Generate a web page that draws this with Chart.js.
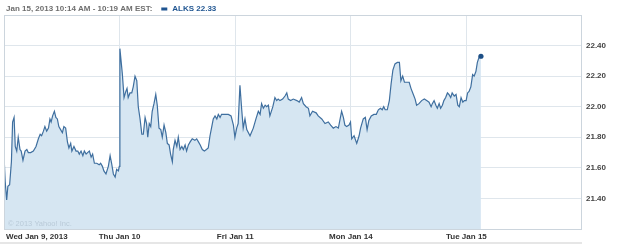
<!DOCTYPE html>
<html><head><meta charset="utf-8">
<script src="https://cdn.jsdelivr.net/npm/chart.js@4.4.1/dist/chart.umd.min.js"></script>
<style>html,body{margin:0;padding:0;background:#fff;overflow:hidden}#wrap{width:625px;height:244px;position:relative}</style>
</head><body><div id="wrap"><canvas id="c" width="625" height="244"></canvas></div>
<script>
const SESSION_MINUTES = 390;
const dayLabels = ["Wed Jan 9, 2013", "Thu Jan 10", "Fri Jan 11", "Mon Jan 14", "Tue Jan 15"];
const yTicks = [21.4, 21.6, 21.8, 22.0, 22.2, 22.4];
const titleText = "Jan 15, 2013 10:14 AM - 10:19 AM EST:";
const seriesLabel = "ALKS 22.33";
const watermark = "\u00A9 2013 Yahoo! Inc.";

// minutes after 9:30 open, and prices, per session
const wedMinutes = [1,4,9,13,19,25,29,34,38,43,48,54,58,64,71,77,82,90,99,108,116,122,127,133,138,144,150,155,159,164,170,175,180,185,191,197,202,208,214,219,225,229,236,243,249,254,260,266,271,277,282,288,294,299,305,313,321,326,332,337,344,352,358,363,369,375,380,386,389];
const wedPrices = [21.64,21.51,21.39,21.48,21.49,21.64,21.90,21.93,21.74,21.71,21.80,21.72,21.71,21.65,21.71,21.72,21.70,21.70,21.71,21.74,21.79,21.82,21.81,21.84,21.87,21.84,21.86,21.92,21.90,21.94,21.97,21.93,21.92,21.87,21.85,21.83,21.87,21.86,21.77,21.73,21.76,21.71,21.74,21.71,21.71,21.69,21.71,21.68,21.71,21.69,21.70,21.71,21.67,21.69,21.63,21.63,21.62,21.63,21.61,21.58,21.56,21.61,21.68,21.63,21.56,21.54,21.59,21.58,21.61];
const thuMinutes = [1,9,15,21,25,29,35,41,46,52,58,63,69,75,80,86,91,95,100,105,110,116,122,127,133,139,144,150,156,161,167,172,178,181,187,193,198,204,210,215,221,226,232,238,245,254,260,266,272,279,286,293,299,305,311,316,322,328,333,339,344,356,367,376,384,389];
const thuPrices = [22.38,22.22,22.06,22.10,22.12,22.06,22.09,22.09,22.13,22.20,22.17,22.00,21.92,21.82,21.82,21.93,21.89,21.80,21.89,21.87,21.97,22.02,22.08,22.01,21.86,21.85,21.80,21.88,21.83,21.76,21.75,21.69,21.64,21.72,21.78,21.74,21.80,21.72,21.74,21.72,21.75,21.71,21.75,21.77,21.79,21.78,21.79,21.77,21.75,21.72,21.71,21.72,21.73,21.81,21.87,21.92,21.94,21.92,21.95,21.93,21.95,21.95,21.95,21.94,21.88,21.80];
const friMinutes = [5,10,16,22,27,33,39,50,61,70,78,84,89,95,101,106,112,117,127,134,140,145,151,160,168,174,179,187,196,208,216,224,230,239,247,252,261,273,280,292,303,314,322,331,340,348,354,359,365,370,376,384,389];
const friPrices = [21.86,21.89,22.14,21.98,21.86,21.92,21.85,21.81,21.86,21.92,21.97,21.95,22.02,21.99,22.01,22.00,22.01,21.94,22.00,22.06,22.04,22.05,22.04,22.05,22.07,22.09,22.05,22.04,22.05,22.04,22.03,22.06,22.02,22.00,21.99,21.94,21.97,21.96,21.94,21.92,21.89,21.90,21.88,21.86,21.87,21.86,21.92,21.97,21.93,21.88,21.87,21.88,21.90];
const monMinutes = [3,11,20,28,33,42,49,55,61,69,78,86,93,100,106,111,116,123,130,136,142,149,157,164,169,175,181,189,197,203,211,217,222,230,239,248,256,264,271,275,281,287,292,298,303,309,314,320,326,331,337,342,349,355,361,366,372,378,383,389];
const monPrices = [21.79,21.81,21.76,21.81,21.86,21.92,21.93,21.85,21.91,21.94,21.95,21.95,21.98,21.99,21.98,22.00,21.98,21.98,22.04,22.15,22.24,22.28,22.29,22.29,22.17,22.20,22.16,22.16,22.16,22.12,22.08,22.05,22.01,22.02,22.04,22.05,22.04,22.03,22.00,22.02,22.04,22.01,21.99,22.02,21.99,22.01,22.04,22.06,22.09,22.08,22.06,22.09,22.07,22.08,22.01,22.00,22.06,22.03,22.04,22.04];
const tueMinutes = [4,9,15,21,26,32,37,42,49];
const tuePrices = [22.09,22.10,22.13,22.21,22.20,22.23,22.29,22.32,22.33];

const sessions = [[wedMinutes, wedPrices],[thuMinutes, thuPrices],[friMinutes, friPrices],[monMinutes, monPrices],[tueMinutes, tuePrices]];
const points = [];
sessions.forEach(([mins, prices], d) => mins.forEach((m, i) => points.push({x: d * SESSION_MINUTES + m, y: prices[i]})));
const dayStarts = dayLabels.map((_, i) => i * SESSION_MINUTES);
const lastIndex = points.length - 1;

const FONT = '"Liberation Sans", Arial, sans-serif';
const gridColor = '#dfe6ec';

const decor = {
  id: 'decor',
  afterDraw(chart) {
    const ctx = chart.ctx, a = chart.chartArea, xs = chart.scales.x;
    ctx.save();
    // frame
    ctx.strokeStyle = '#ccd5dd';
    ctx.lineWidth = 1;
    ctx.strokeRect(Math.round(a.left) + 0.5, Math.round(a.top) + 0.5, Math.round(a.right - a.left) - 1, Math.round(a.bottom - a.top));
    // bottom band
    ctx.fillStyle = '#e6e6e6';
    ctx.fillRect(0, 242, a.right, 2);
    // watermark
    ctx.font = '7.5px ' + FONT;
    ctx.fillStyle = '#b9cad8';
    ctx.textBaseline = 'middle';
    ctx.textAlign = 'left';
    ctx.fillText(watermark, a.left + 4, 224);
    // x labels
    ctx.font = 'bold 8px ' + FONT;
    ctx.fillStyle = '#333333';
    dayLabels.forEach((lab, i) => {
      const px = xs.getPixelForValue(dayStarts[i]);
      if (i === 0) { ctx.textAlign = 'left'; ctx.fillText(lab, px + 2, 237); }
      else { ctx.textAlign = 'center'; ctx.fillText(lab, px, 237); }
    });
    // title
    ctx.textAlign = 'left';
    ctx.fillStyle = '#6e6e6e';
    ctx.fillText(titleText, 6, 9);
    const w = ctx.measureText(titleText).width;
    ctx.fillStyle = '#1f5591';
    ctx.fillRect(6 + w + 9, 7.5, 6, 3);
    ctx.fillText(seriesLabel, 6 + w + 20, 9);
    ctx.restore();
  }
};

new Chart(document.getElementById('c'), {
  type: 'line',
  data: {
    datasets: [{
      data: points,
      borderColor: '#3f6f9f',
      borderWidth: 1.2,
      backgroundColor: '#d6e6f2',
      fill: 'start',
      tension: 0,
      pointRadius: ctx => ctx.dataIndex === lastIndex ? 2.6 : 0,
      pointBackgroundColor: '#1d4f86',
      pointBorderColor: '#1d4f86',
      pointBorderWidth: 0
    }]
  },
  options: {
    responsive: false,
    animation: false,
    devicePixelRatio: 1,
    layout: {padding: {left: 4, top: 15, right: 0, bottom: 0}},
    plugins: {legend: {display: false}, tooltip: {enabled: false}},
    scales: {
      x: {
        type: 'linear', min: 0, max: SESSION_MINUTES * 5,
        afterBuildTicks: s => { s.ticks = dayStarts.map(v => ({value: v})); },
        ticks: {display: false},
        grid: {color: gridColor, drawTicks: false, lineWidth: 1},
        border: {display: false},
        afterFit: s => { s.height = 15; }
      },
      y: {
        position: 'right', min: 21.2, max: 22.6,
        afterBuildTicks: s => { s.ticks = yTicks.map(v => ({value: v})); },
        ticks: {callback: v => Number(v).toFixed(2), font: {family: FONT, size: 8, weight: 'bold'}, color: '#444444', padding: 4},
        grid: {color: gridColor, drawTicks: false, lineWidth: 1},
        border: {display: false},
        afterFit: s => { s.width = 43; }
      }
    }
  },
  plugins: [decor]
});
</script>
</body></html>
